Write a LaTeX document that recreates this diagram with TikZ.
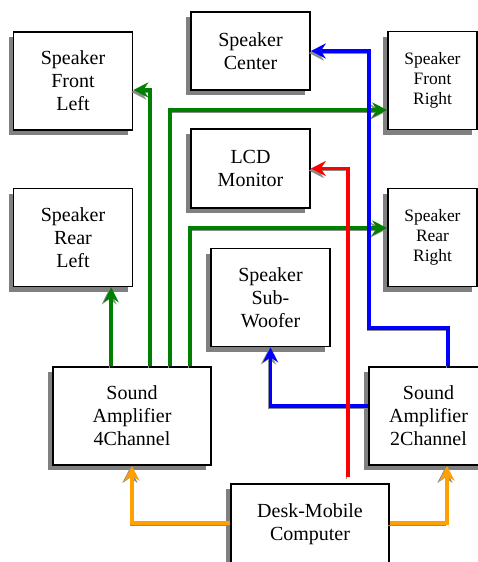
\documentclass[tikz,border=0pt]{standalone}
\usepackage{fontspec}
\setmainfont{Liberation Serif}
\usetikzlibrary{arrows.meta,shadows}

\begin{document}
\begin{tikzpicture}[x=1pt, y=-1pt,
  box/.style={draw, line width=1.6pt, fill=white, align=center, inner sep=0pt,
    minimum width=119pt, minimum height=98pt, font=\fontsize{20}{23}\selectfont,
    drop shadow={shadow xshift=-5pt, shadow yshift=-5pt, fill=black!50, opacity=1}},
  narrow/.style={minimum width=89pt, font=\fontsize{17.4}{20}\selectfont},
  wide/.style={minimum width=158pt},
  wire/.style={line width=3.5pt, -{Stealth[length=15pt,width=15pt,inset=5pt]},
    preaction={draw=black!45, transform canvas={shift={(-2pt,-2pt)}}}},
  gline/.style={wire, draw=green!50!black},
  bline/.style={wire, draw=blue},
  rline/.style={wire, draw=red},
  oline/.style={wire, draw={rgb,255:red,255;green,160;blue,0}}]
  \useasboundingbox (0,0) rectangle (478,562);
  \clip (0,0) rectangle (478,562);

  % speakers and screens
  \node[box, minimum height=78pt] (ctr) at (250.5,51) {Speaker\\Center};
  \node[box] (fl) at (73,81) {Speaker\\Front\\Left};
  \node[box, narrow] (fr) at (432.5,80.5) {Speaker\\Front\\Right};
  \node[box, minimum height=79pt] (lcd) at (250.5,168.5) {LCD\\Monitor};
  \node[box] (rl) at (73,237.5) {Speaker\\Rear\\Left};
  \node[box, narrow] (rr) at (432.5,237.5) {Speaker\\Rear\\Right};
  \node[box] (sub) at (270.5,297.5) {Speaker\\Sub-\\Woofer};
  % amplifiers and computer
  \node[box, wide] (amp4) at (132,416) {Sound\\Amplifier\\4Channel};
  \node[box] (amp2) at (428.5,416) {Sound\\Amplifier\\2Channel};
  \node[box, wide, minimum height=80pt] (pc) at (310,524) {Desk-Mobile\\Computer};
  \coordinate (bend) at (369,328);

  \draw[gline] ([xshift=59pt]amp4.north west) -- ([xshift=59pt]amp4.north west |- rl.south);
  \draw[gline] ([xshift=98pt]amp4.north west) |- ([yshift=-9pt]fl.east);
  \draw[gline] ([xshift=118pt]amp4.north west) |- ([yshift=-29.5pt]fr.west);
  \draw[gline] ([xshift=138pt]amp4.north west) |- ([yshift=9.5pt]rr.west);
  \draw[bline] ([xshift=19.5pt]amp2.north) |- (bend) |- (ctr.east);
  \draw[bline] ([yshift=10pt]amp2.west) -| (sub.south);
  \draw[rline] ([xshift=38pt,yshift=6pt]pc.north) |- (lcd.east);
  \draw[oline] ([yshift=1pt]pc.west) -| (amp4.south);
  \draw[oline] ([yshift=1pt]pc.east) -| ([xshift=18.5pt]amp2.south);
\end{tikzpicture}
\end{document}
